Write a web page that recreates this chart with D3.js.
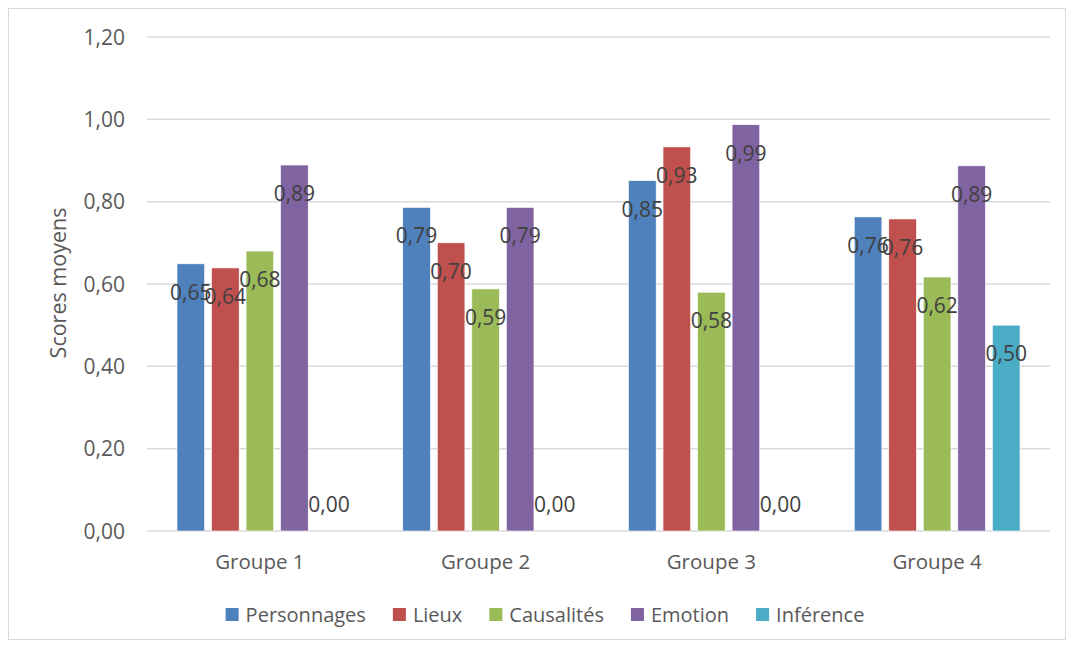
<!DOCTYPE html>
<html><head><meta charset="utf-8">
<script src="https://cdn.jsdelivr.net/npm/d3@7"></script>
<style>body{margin:0;background:#fff;} text{font-family:"Open Sans",sans-serif;}</style>
</head><body>
<svg id="c" width="1074" height="648"></svg>
<script>
const categories = ["Groupe 1","Groupe 2","Groupe 3","Groupe 4"];
const seriesNames = ["Personnages","Lieux","Causalités","Emotion","Inférence"];
const personnages = [0.649, 0.786, 0.851, 0.763];
const lieux       = [0.639, 0.700, 0.933, 0.758];
const causalites  = [0.680, 0.588, 0.580, 0.617];
const emotion     = [0.889, 0.786, 0.987, 0.887];
const inference   = [0.000, 0.000, 0.000, 0.500];
const yTicks = [0, 0.2, 0.4, 0.6, 0.8, 1.0, 1.2];
const colors = ["#4F81BD","#C0504D","#9BBB59","#8064A2","#4BACC6"];
const seriesValues = [personnages, lieux, causalites, emotion, inference];

const svg = d3.select("#c");
const fmt = v => v.toFixed(2).replace(".", ",");

svg.append("rect").attr("x",8.5).attr("y",8.5).attr("width",1057).attr("height",631)
  .attr("fill","#fff").attr("stroke","#d9d9d9").attr("stroke-width",1);

const x0 = d3.scaleBand().domain(categories).range([147,1050]).padding(0);
const y = d3.scaleLinear().domain([0,1.2]).range([531,37]);
const x1 = d3.scaleBand().domain(seriesNames).range([30, x0.bandwidth()-30]).paddingInner(0.2).paddingOuter(0);

// grid
svg.append("g").selectAll("line").data(yTicks).join("line")
  .attr("x1",147).attr("x2",1050).attr("y1",d=>y(d)).attr("y2",d=>y(d))
  .attr("stroke","#d9d9d9").attr("stroke-width",1.5);

// y tick labels
svg.append("g").selectAll("text").data(yTicks).join("text")
  .attr("x",125).attr("y",d=>y(d)+7.5).attr("text-anchor","end")
  .attr("font-size",21).attr("fill","#595959").text(d=>fmt(d));

// y axis title
svg.append("text").attr("transform","translate(66,283) rotate(-90)")
  .attr("text-anchor","middle").attr("font-size",21.5).attr("fill","#595959").text("Scores moyens");

// bars
const data = [];
categories.forEach((c,i)=>seriesNames.forEach((s,j)=>data.push({c,s,j,v:seriesValues[j][i]})));
const g = svg.append("g");
g.selectAll("rect").data(data).join("rect")
  .attr("x",d=>x0(d.c)+x1(d.s)).attr("width",x1.bandwidth())
  .attr("y",d=>y(d.v)).attr("height",d=>y(0)-y(d.v))
  .attr("fill",d=>colors[d.j]).attr("stroke","#fff").attr("stroke-width",0.6);

// labels
g.selectAll("text").data(data).join("text")
  .attr("x",d=>x0(d.c)+x1(d.s)+x1.bandwidth()/2)
  .attr("y",d=>d.v===0 ? y(0)-19 : y(d.v)+36)
  .attr("text-anchor","middle").attr("font-size",21).attr("fill","#404040")
  .text(d=>fmt(d.v));

// category labels
svg.append("g").selectAll("text").data(categories).join("text")
  .attr("x",d=>x0(d)+x0.bandwidth()/2).attr("y",569).attr("text-anchor","middle")
  .attr("font-size",20.5).attr("fill","#595959").text(d=>d);

// legend
const leg = svg.append("g");
const items = leg.selectAll("g").data(seriesNames).join("g");
items.append("rect").attr("width",13).attr("height",13).attr("y",608).attr("fill",(d,i)=>colors[i]);
items.append("text").attr("x",20).attr("y",622).attr("font-size",20).attr("fill","#595959").text(d=>d);
let widths = [];
items.each(function(){ widths.push(20 + d3.select(this).select("text").node().getComputedTextLength()); });
const gap = 27;
const total = d3.sum(widths) + gap*(widths.length-1);
let cx = 545 - total/2;
items.each(function(d,i){ d3.select(this).attr("transform",`translate(${cx},0)`); cx += widths[i]+gap; });
</script>
</body></html>
